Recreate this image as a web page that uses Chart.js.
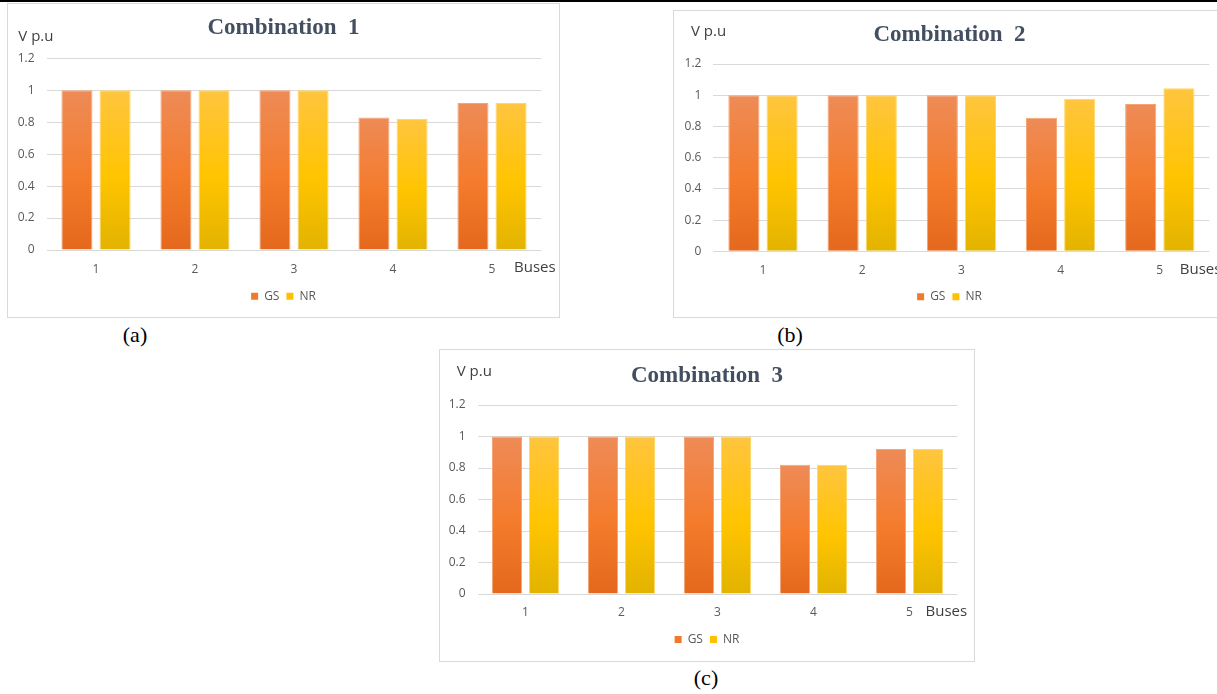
<!DOCTYPE html>
<html>
<head>
<meta charset="utf-8">
<script src="https://cdn.jsdelivr.net/npm/chart.js@4.4.1/dist/chart.umd.min.js"></script>
<style>
  html, body { margin: 0; padding: 0; background: #fff; width: 1217px; height: 694px; overflow: hidden; position: relative; }
  .topline { position: absolute; left: 0; top: 0; width: 1217px; height: 2px; background: #000; }
  .frame { position: absolute; border: 1px solid #d9d9d9; box-sizing: border-box; background: #fff; overflow: hidden; }
  .frame canvas { position: absolute; left: 0; top: 0; }
  .cap { position: absolute; font-family: "Liberation Serif", "Times New Roman", serif; font-size: 22px; color: #000;
         transform: translate(-50%, -50%); white-space: nowrap; }
</style>
</head>
<body>
<div class="topline"></div>

<div class="frame" style="left:7px;top:3px;width:553px;height:315px;"><canvas id="comb1" width="551" height="313"></canvas></div>
<div class="frame" style="left:673px;top:10px;width:553px;height:308px;"><canvas id="comb2" width="551" height="306"></canvas></div>
<div class="frame" style="left:439px;top:349px;width:536px;height:313px;"><canvas id="comb3" width="534" height="311"></canvas></div>

<div class="cap" style="left:135px;top:335px;">(a)</div>
<div class="cap" style="left:790px;top:335px;">(b)</div>
<div class="cap" style="left:706px;top:678px;">(c)</div>

<script>
// Bus voltages (p.u.) from the Gauss-Seidel and Newton-Raphson load flows
const buses = ['1', '2', '3', '4', '5'];
const yTickLabels = ['0', '0.2', '0.4', '0.6', '0.8', '1', '1.2'];
const seriesNames = ['GS', 'NR'];
const chartTitles = ['Combination  1', 'Combination  2', 'Combination  3'];

const gsComb1 = [1, 1, 1, 0.83, 0.92];
const nrComb1 = [1, 1, 1, 0.82, 0.92];
const gsComb2 = [1, 1, 1, 0.855, 0.943];
const nrComb2 = [1, 1, 1, 0.977, 1.045];
const gsComb3 = [1, 1, 1, 0.82, 0.92];
const nrComb3 = [1, 1, 1, 0.82, 0.92];

const yAxisTitle = 'V p.u';
const xAxisTitle = 'Buses';

Chart.defaults.font.family = '"Open Sans", "Noto Sans", sans-serif';
Chart.defaults.color = '#595959';

const gsStops = ['#ee8b57', '#f47b2b', '#e4681d'];
const nrStops = ['#ffc53f', '#ffc400', '#e2b300'];
const legendColors = ['#ef7a2c', '#ffc000'];

// vertical fill per bar: lighter at the top, deeper at the base
function barGradient(stops) {
  return function (ctx) {
    const chart = ctx.chart;
    const y = chart.scales && chart.scales.y;
    if (!y || ctx.type !== 'data' || !chart.chartArea) return stops[1];
    const top = y.getPixelForValue(ctx.raw);
    const base = y.getPixelForValue(0);
    if (!isFinite(top) || !isFinite(base) || top === base) return stops[1];
    const g = chart.ctx.createLinearGradient(0, top, 0, base);
    g.addColorStop(0, stops[0]);
    g.addColorStop(0.55, stops[1]);
    g.addColorStop(1, stops[2]);
    return g;
  };
}

// axis captions: unit above the value axis, "Buses" after the last category
const axisNotes = {
  id: 'axisNotes',
  afterDraw(chart, args, opts) {
    const { ctx, chartArea, scales } = chart;
    ctx.save();
    ctx.font = '15px "Open Sans", sans-serif';
    ctx.fillStyle = '#404040';
    ctx.textBaseline = 'middle';
    ctx.textAlign = 'left';
    ctx.fillText(yAxisTitle, opts.unitX, opts.unitY);
    const lastX = scales.x.getPixelForValue(buses.length - 1);
    ctx.fillText(xAxisTitle, lastX + opts.busesGap, chartArea.bottom + opts.busesDy);
    ctx.restore();
  }
};

function makeChart(id, title, gs, nr, lay) {
  return new Chart(document.getElementById(id), {
    type: 'bar',
    data: {
      labels: buses,
      datasets: [
        { label: seriesNames[0], data: gs, backgroundColor: barGradient(gsStops), borderColor: '#f5a474', borderWidth: 1 },
        { label: seriesNames[1], data: nr, backgroundColor: barGradient(nrStops), borderColor: '#ffd668', borderWidth: 1 }
      ]
    },
    options: {
      responsive: false,
      animation: false,
      devicePixelRatio: 1,
      categoryPercentage: 0.77,
      barPercentage: 0.815,
      layout: { padding: { left: 0, right: 0, top: 0, bottom: lay.padBottom } },
      plugins: {
        tooltip: { enabled: false },
        title: {
          display: true,
          text: title,
          color: '#434f60',
          font: { family: '"Liberation Serif", "Times New Roman", serif', size: 23, weight: 'bold', lineHeight: 1.2 },
          padding: { top: lay.titleTop, bottom: lay.titleBottom }
        },
        legend: {
          position: 'bottom',
          labels: {
            boxWidth: 7,
            boxHeight: 7,
            padding: 7,
            color: '#595959',
            font: { size: 12 },
            generateLabels(chart) {
              const items = Chart.defaults.plugins.legend.labels.generateLabels(chart);
              items.forEach((it, i) => {
                it.fillStyle = legendColors[i];
                it.strokeStyle = legendColors[i];
                it.lineWidth = 0;
              });
              return items;
            }
          }
        },
        axisNotes: { unitX: lay.unitX, unitY: lay.unitY, busesGap: lay.busesGap, busesDy: 18 }
      },
      scales: {
        x: {
          grid: { display: false },
          border: { display: false },
          ticks: { padding: lay.xPad, font: { size: 12 }, color: '#595959' },
          afterFit(scale) { scale.height = lay.xHeight; }
        },
        y: {
          min: 0,
          max: 1.2,
          ticks: {
            stepSize: 0.2,
            padding: 12,
            font: { size: 12 },
            color: '#595959',
            callback: (v) => yTickLabels[Math.round(v / 0.2)]
          },
          grid: { color: '#d9d9d9', lineWidth: 1, drawTicks: false },
          border: { display: false },
          afterFit(scale) { scale.width = lay.plotLeft; }
        },
        // blank margin on the right of the plot
        yGap: {
          position: 'right',
          min: 0,
          max: 1.2,
          grid: { display: false, drawOnChartArea: false },
          border: { display: false },
          ticks: { display: false },
          afterFit(scale) { scale.width = lay.plotRight; }
        }
      }
    },
    plugins: [axisNotes]
  });
}

makeChart('comb1', chartTitles[0], gsComb1, nrComb1, {
  plotRight: 17.5, padBottom: 4.8, titleTop: 10.5, titleBottom: 16.2,
  xHeight: 33.2, plotLeft: 38.5, xPad: 4, unitX: 10.3, unitY: 32.7, busesGap: 22
});
makeChart('comb2', chartTitles[1], gsComb2, nrComb2, {
  plotRight: 15.6, padBottom: 4.2, titleTop: 10.2, titleBottom: 15.2,
  xHeight: 32.5, plotLeft: 39.4, xPad: 4, unitX: 17, unitY: 20.7, busesGap: 20
});
makeChart('comb3', chartTitles[2], gsComb3, nrComb3, {
  plotRight: 16.5, padBottom: 5.5, titleTop: 11.9, titleBottom: 15.5,
  xHeight: 32.5, plotLeft: 37.5, xPad: 3, unitX: 16.7, unitY: 21.7, busesGap: 16
});
</script>
</body>
</html>
